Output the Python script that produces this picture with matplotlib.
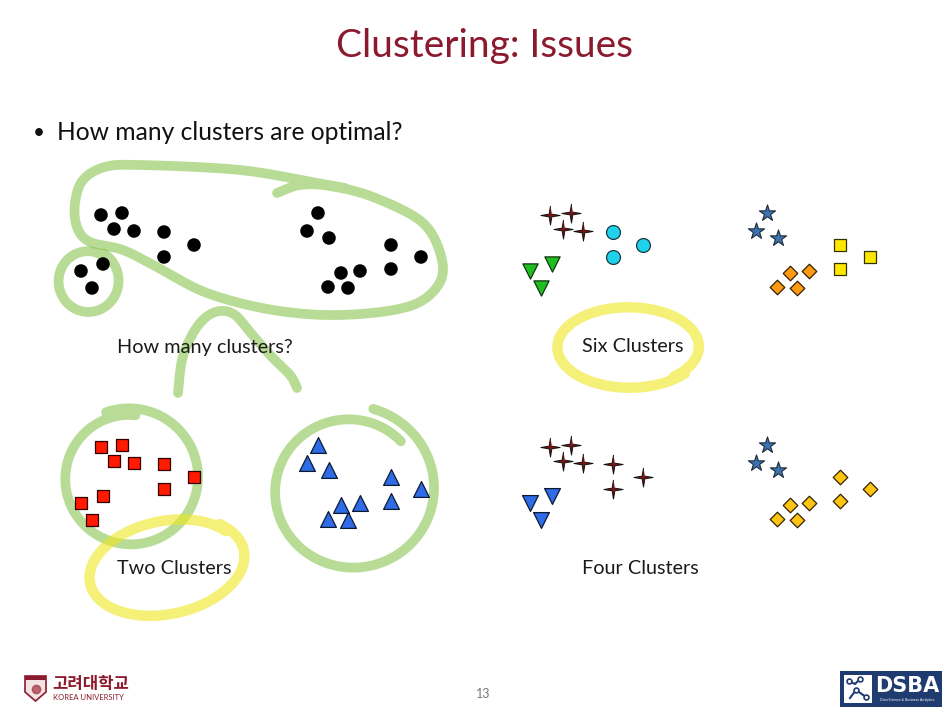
import numpy as np
import matplotlib
matplotlib.use('Agg')
import matplotlib.pyplot as plt
import matplotlib.patches as mpatches

plt.rcParams['font.family'] = ['Lato', 'Noto Sans CJK KR', 'DejaVu Sans']

# Same 20 points shown in all four panels (pixel coords of the top-left panel)
base_x = [101, 122, 114, 134, 164, 194, 164, 103, 81, 92,
          318, 307, 329, 391, 421, 391, 360, 341, 328, 348]
base_y = [215, 213, 229, 231, 232, 245, 257, 264, 271, 288,
          213, 231, 238, 245, 257, 269, 271, 273, 287, 288]

# panel origins (offset of each panel from the top-left one)
panel_dx = [0, 449, 0, 449]
panel_dy = [0, 0, 232, 232]

groups_raw = [0] * 20
groups_six = [0, 0, 0, 0, 1, 1, 1, 2, 2, 2, 3, 3, 3, 4, 4, 4, 5, 5, 5, 5]
groups_two = [0] * 10 + [1] * 10
groups_four = [0] * 7 + [1] * 3 + [2] * 3 + [3] * 7

panel_labels = ['How many clusters?', 'Six Clusters', 'Two Clusters', 'Four Clusters']
label_x = [117, 582, 117, 582]
label_y = [348, 347, 568, 568]

# sparkle-like 4 point star
ang = np.linspace(0, 2 * np.pi, 9)[:-1] + np.pi / 2
rad = np.where(np.arange(8) % 2 == 0, 1.0, 0.2)
SPARKLE = list(zip(rad * np.cos(ang), rad * np.sin(ang)))

STYLE_RAW = [dict(marker='o', c='black', s=95, edgecolors='none')]
STYLE_SIX = [
    dict(marker=SPARKLE, c='#7a1414', s=190, edgecolors='#111111', linewidths=0.7),
    dict(marker='o', c='#1ed2ec', s=100, edgecolors='#1a3a44', linewidths=0.9),
    dict(marker='v', c='#1fbf1f', s=120, edgecolors='#113311', linewidths=0.9),
    dict(marker='*', c='#3f73b0', s=150, edgecolors='#1a2a3a', linewidths=0.8),
    dict(marker='s', c='#ffe800', s=85, edgecolors='#333300', linewidths=0.9),
    dict(marker='D', c='#ff9a12', s=55, edgecolors='#332200', linewidths=0.9),
]
STYLE_TWO = [
    dict(marker='s', c='#ff1a00', s=85, edgecolors='#330000', linewidths=0.9),
    dict(marker='^', c='#2f6be6', s=130, edgecolors='#0a1a33', linewidths=0.9),
]
STYLE_FOUR = [
    dict(marker=SPARKLE, c='#7a1414', s=190, edgecolors='#111111', linewidths=0.7),
    dict(marker='v', c='#2f6be6', s=130, edgecolors='#0a1a33', linewidths=0.9),
    dict(marker='*', c='#3f73b0', s=150, edgecolors='#1a2a3a', linewidths=0.8),
    dict(marker='D', c='#ffc414', s=55, edgecolors='#332200', linewidths=0.9),
]

GREEN = '#8ac550'
YELLOW = '#eee61e'


def catmull(pts, n=16):
    p = np.asarray(pts, dtype=float)
    p = np.vstack([p[0], p, p[-1]])
    out = []
    for i in range(1, len(p) - 2):
        p0, p1, p2, p3 = p[i - 1], p[i], p[i + 1], p[i + 2]
        for t in np.linspace(0, 1, n, endpoint=False):
            out.append(0.5 * ((2 * p1) + (-p0 + p2) * t
                              + (2 * p0 - 5 * p1 + 4 * p2 - p3) * t ** 2
                              + (-p0 + 3 * p1 - 3 * p2 + p3) * t ** 3))
    out.append(p[-2])
    return np.array(out)


def loop(cx, cy, rx, ry, rot, a0, extent, shrink):
    t = np.radians(np.linspace(a0, a0 + extent, 200))
    k = np.linspace(1.0, shrink, t.size)
    th = np.radians(rot)
    ex, ey = rx * k * np.cos(t), ry * k * np.sin(t)
    return cx + ex * np.cos(th) - ey * np.sin(th), cy + ex * np.sin(th) + ey * np.cos(th)


fig = plt.figure(figsize=(9.42, 7.10), dpi=100)
ax = fig.add_axes([0, 0, 1, 1])
ax.set_xlim(0, 942)
ax.set_ylim(710, 0)
ax.axis('off')

# hand drawn annotations
big = catmull([(277, 193), (300, 185), (330, 186), (373, 197), (423, 223), (442, 260),
               (437, 287), (407, 307), (340, 315), (273, 310), (207, 293), (157, 267),
               (123, 250), (90, 242), (77, 227), (75, 203), (83, 180), (105, 167),
               (140, 165), (240, 170), (317, 183), (345, 188)])
ax.plot(big[:, 0], big[:, 1], color=GREEN, lw=7, alpha=0.6, solid_capstyle='round', zorder=1)
hat = catmull([(178, 393), (182, 360), (192, 335), (205, 318), (220, 311), (235, 315),
               (250, 332), (270, 355), (290, 375), (297, 388)])
ax.plot(hat[:, 0], hat[:, 1], color=GREEN, lw=7, alpha=0.6, solid_capstyle='round', zorder=1)
for cx, cy, rx, ry, rot, a0, ext, sh in [(88, 281, 31, 32, 0, -60, 380, 0.92),
                                         (130, 478, 70, 70, 0, -110, 385, 0.9),
                                         (351, 490, 86, 84, 0, -75, 390, 0.82)]:
    lx, ly = loop(cx, cy, rx, ry, rot, a0, ext, sh)
    ax.plot(lx, ly, color=GREEN, lw=7, alpha=0.6, solid_capstyle='round', zorder=1)
for cx, cy, rx, ry, rot, a0, ext, sh in [(166, 567, 80, 48, -12, -40, 370, 0.95),
                                         (629, 347, 73, 41, 0, 40, 370, 0.95)]:
    lx, ly = loop(cx, cy, rx, ry, rot, a0, ext, sh)
    ax.plot(lx, ly, color=YELLOW, lw=7.5, alpha=0.6, solid_capstyle='round', zorder=1)

# scatter panels
bx = np.array(base_x)
by = np.array(base_y)
panels = [(groups_raw, STYLE_RAW), (groups_six, STYLE_SIX),
          (groups_two, STYLE_TWO), (groups_four, STYLE_FOUR)]
for i, (grp, styles) in enumerate(panels):
    grp = np.array(grp)
    for g, st in enumerate(styles):
        m = grp == g
        ax.scatter(bx[m] + panel_dx[i], by[m] + panel_dy[i], zorder=3, **st)
    ax.text(label_x[i], label_y[i], panel_labels[i], fontsize=14.3, color='#1a1a1a',
            va='center', ha='left', zorder=4)

# slide text
ax.text(484, 46, 'Clustering: Issues', fontsize=28, color='#8b1a2e', ha='center', va='center')
ax.text(33, 133, '•', fontsize=15, color='#111111', ha='left', va='center')
ax.text(57, 133, 'How many clusters are optimal?', fontsize=17.7, color='#111111',
        ha='left', va='center')
ax.text(483, 694, '13', fontsize=9, color='#777777', ha='center', va='center')

# Korea University logo
shield = mpatches.Polygon([(25, 676), (46, 676), (46, 692), (35.5, 701), (25, 692)],
                          closed=True, facecolor='#f3e3e3', edgecolor='#8b1a2e', lw=1.2)
ax.add_patch(shield)
ax.add_patch(mpatches.Rectangle((25, 676), 21, 4, facecolor='#8b1a2e', edgecolor='none'))
ax.plot(35.5, 689, marker='o', ms=6, color='#a03040', alpha=0.7)
ax.text(52, 684, '고려대학교', fontsize=12, fontweight='bold', color='#8b1a2e',
        family=['Noto Sans CJK KR'], ha='left', va='center')
ax.text(53, 697, 'KOREA UNIVERSITY', fontsize=5.5, color='#8b1a2e', ha='left', va='center')

# DSBA logo
ax.add_patch(mpatches.Rectangle((840, 671), 102, 36, facecolor='#1f3b70', edgecolor='none'))
ax.add_patch(mpatches.Rectangle((844, 675), 28, 28, facecolor='white', edgecolor='none'))
ax.plot([849, 855, 860], [681, 684, 679], color='#1f3b70', lw=1.5)
ax.plot([850, 856, 866], [698, 690, 697], color='#1f3b70', lw=1.5)
ax.plot([849, 860, 856, 866], [681, 679, 690, 697], 'o', color='#1f3b70', ms=3.5,
        mfc='white', mew=1.2)
ax.text(907, 686, 'DSBA', fontsize=15, fontweight='bold', color='white',
        ha='center', va='center', family=['DejaVu Sans'])
ax.text(907, 700, 'Data Science & Business Analytics', fontsize=2.6, color='white',
        ha='center', va='center')

fig.savefig('out.png', dpi=100, facecolor='white')
